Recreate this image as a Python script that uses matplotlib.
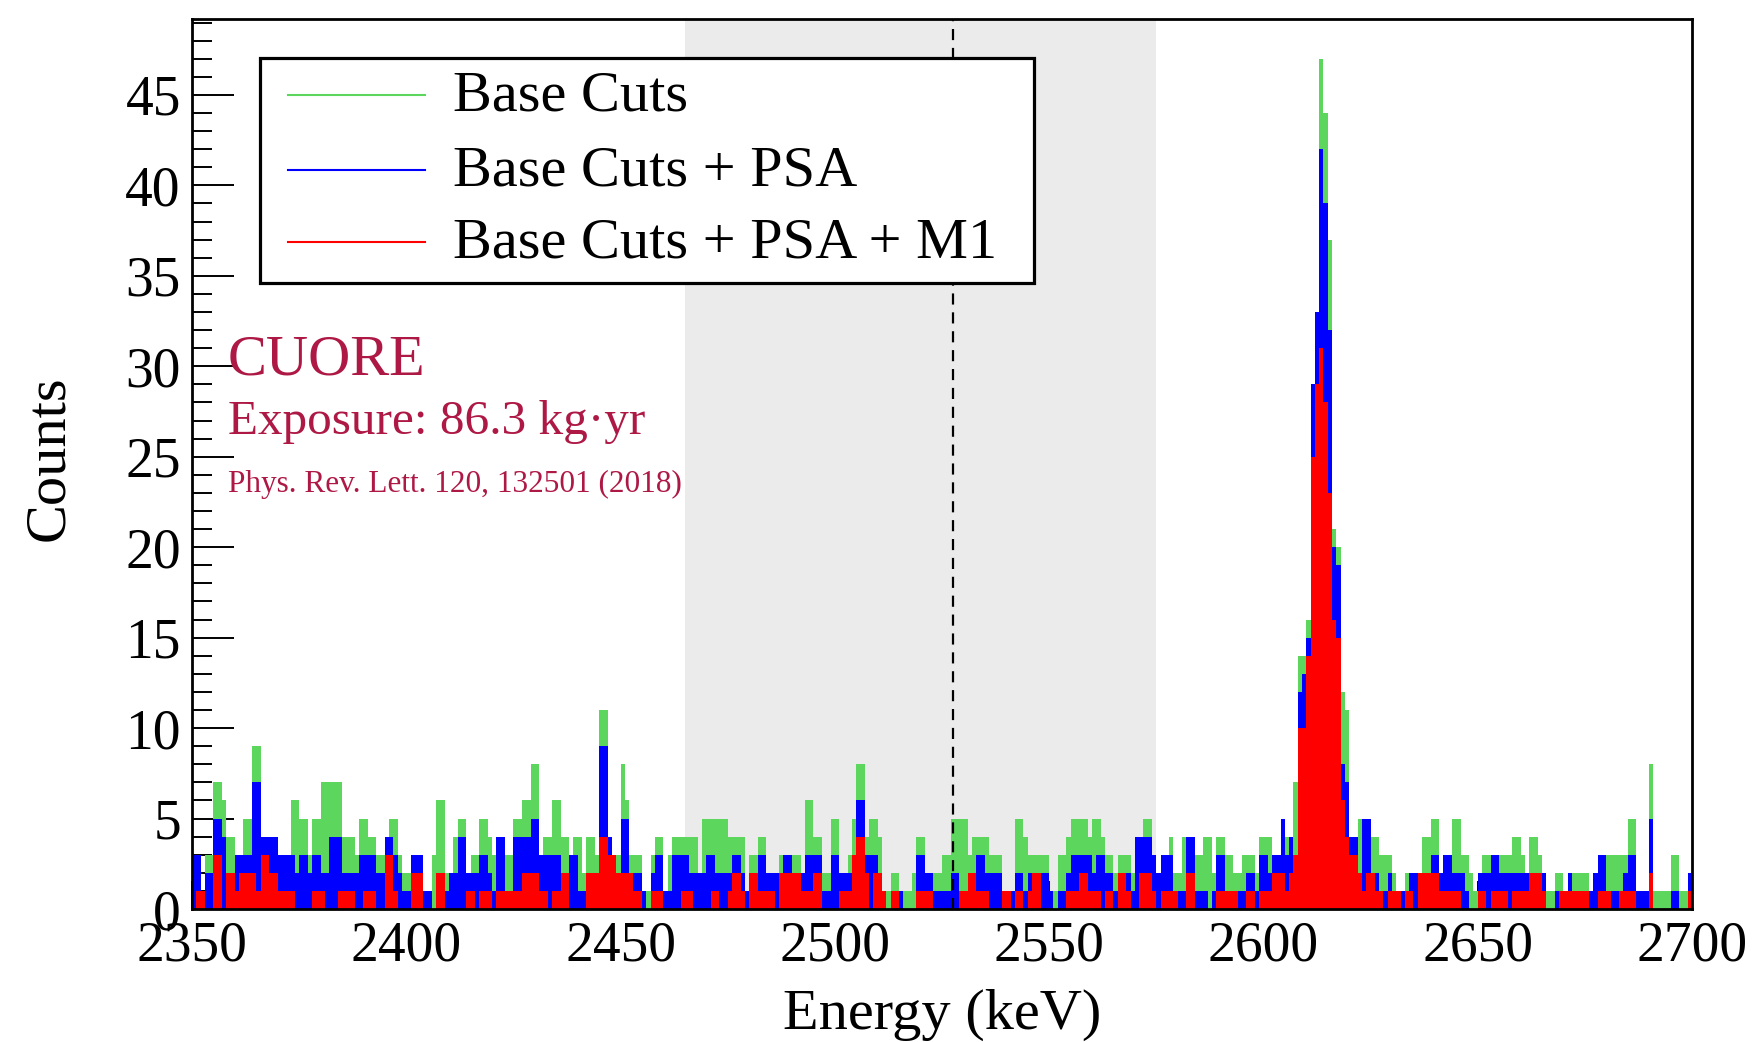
import numpy as np
import matplotlib.pyplot as plt
from matplotlib.ticker import MultipleLocator
from matplotlib.patches import Rectangle

plt.rcParams['font.family'] = ['Liberation Serif', 'DejaVu Serif']

e_lo, e_hi = 2350, 2700
roi = (2465, 2575)
q_bb = 2527.5

# counts per 1 keV bin, 2350-2700 keV
base_cuts = [
    3, 3, 1, 3, 3, 7, 7, 6, 4, 4, 3, 3, 5, 5, 9, 9, 4, 4, 4, 4, 3, 3, 3, 6, 6, 5, 5, 3, 5, 5, 7, 7, 7, 7, 7,
    4, 4, 4, 3, 5, 5, 4, 4, 3, 3, 4, 5, 5, 3, 2, 2, 3, 3, 3, 1, 1, 3, 6, 6, 2, 2, 4, 5, 5, 2, 3, 3, 5, 5,
    4, 3, 4, 4, 3, 3, 5, 5, 6, 6, 8, 8, 3, 4, 4, 6, 6, 4, 4, 3, 4, 4, 2, 4, 4, 3, 11, 11, 4, 3, 3, 8, 6, 3, 3,
    3, 1, 1, 3, 4, 4, 1, 3, 4, 4, 4, 4, 4, 4, 2, 5, 5, 5, 5, 5, 5, 4, 4, 4, 4, 1, 3, 3, 4, 4, 2, 2, 2, 3, 3,
    3, 3, 3, 2, 6, 6, 4, 4, 2, 2, 5, 5, 2, 2, 3, 5, 8, 8, 4, 5, 5, 4, 1, 1, 2, 2, 1, 1, 1, 2, 4, 4, 2, 2, 2,
    2, 3, 3, 5, 5, 5, 5, 3, 4, 4, 4, 4, 3, 3, 3, 1, 1, 1, 5, 5, 4, 3, 3, 3, 3, 3, 1, 1, 3, 3, 4, 5, 5, 5, 5,
    4, 5, 5, 4, 3, 3, 2, 3, 3, 3, 2, 4, 4, 5, 5, 3, 2, 3, 3, 4, 2, 2, 4, 4, 4, 3, 3, 4, 4, 2, 4, 4, 3, 3, 2,
    2, 3, 3, 3, 2, 4, 4, 4, 3, 3, 5, 4,
    4, 7, 14, 14, 16, 29, 33, 47, 44, 37, 21, 20, 12, 11,
    4, 4, 5, 5, 5, 4, 4, 3, 3,
    3, 2, 1, 1, 2, 2, 2, 2, 4, 4, 5, 5, 2, 3, 3, 5, 5, 3, 3, 2, 1, 2, 3, 3, 3, 3, 3, 3, 3, 4, 4, 3, 2, 4, 4,
    3, 2, 1, 1, 2, 2, 1, 2, 2, 2, 2, 2, 1, 2, 3, 3, 3, 3, 3, 3, 3, 5, 5, 1, 1, 1, 8, 1, 1, 1, 1, 3, 3, 1, 1, 2,
]
base_psa = [
    3, 3, 1, 2, 2, 5, 5, 4, 2, 2, 3, 3, 3, 3, 7, 7, 4, 4, 4, 4, 3, 3, 3, 3, 2, 3, 3, 2, 3, 3, 2, 2, 4, 4, 4,
    2, 2, 2, 2, 3, 3, 3, 3, 2, 2, 4, 4, 3, 2, 1, 1, 3, 3, 3, 1, 1, 0, 2, 2, 1, 2, 2, 4, 4, 2, 2, 2, 3, 3,
    2, 1, 4, 4, 1, 1, 4, 4, 4, 4, 5, 5, 3, 3, 3, 3, 3, 2, 2, 3, 3, 1, 1, 2, 2, 2, 9, 9, 4, 3, 2, 5, 5, 2, 2,
    2, 1, 0, 2, 3, 3, 1, 1, 3, 3, 3, 3, 2, 2, 2, 2, 3, 3, 2, 2, 2, 2, 3, 3, 2, 1, 2, 2, 3, 3, 2, 2, 2, 2, 3,
    3, 2, 2, 2, 3, 3, 3, 3, 1, 1, 3, 3, 2, 2, 2, 3, 6, 6, 3, 3, 3, 2, 1, 0, 1, 1, 1, 0, 0, 0, 3, 3, 2, 2, 1,
    1, 1, 1, 2, 2, 1, 1, 2, 2, 3, 3, 2, 2, 2, 2, 1, 1, 1, 2, 2, 1, 2, 2, 2, 2, 2, 1, 0, 1, 1, 2, 3, 3, 3, 3,
    3, 2, 3, 3, 2, 2, 1, 2, 2, 2, 1, 4, 4, 4, 4, 3, 2, 3, 3, 3, 1, 1, 1, 4, 4, 1, 1, 1, 0, 1, 3, 3, 1, 1, 1,
    1, 1, 2, 2, 1, 3, 3, 2, 3, 3, 5, 3,
    4, 3, 12, 13, 15, 29, 33, 42, 39, 32, 20, 19, 8, 7,
    4, 4, 2, 5, 5, 2, 2, 1, 1,
    2, 1, 1, 1, 1, 2, 2, 2, 2, 2, 3, 3, 2, 3, 3, 2, 2, 2, 1, 0, 0, 2, 2, 2, 3, 3, 2, 2, 2, 2, 2, 2, 2, 2, 2,
    2, 2, 0, 0, 1, 1, 1, 2, 1, 1, 1, 1, 1, 2, 3, 3, 1, 1, 1, 1, 2, 3, 3, 1, 1, 1, 5, 0, 0, 0, 0, 1, 1, 0, 0, 2,
]
base_psa_m1 = [
    0, 1, 1, 0, 0, 3, 3, 0, 2, 2, 1, 2, 2, 2, 2, 1, 3, 3, 2, 2, 1, 1, 1, 1, 0, 0, 0, 0, 1, 1, 1, 0, 0, 0, 1,
    1, 1, 1, 0, 0, 1, 1, 1, 0, 0, 3, 3, 1, 0, 0, 0, 2, 2, 2, 0, 0, 0, 2, 2, 0, 0, 0, 0, 0, 1, 1, 0, 1, 1,
    1, 0, 1, 1, 1, 1, 1, 1, 2, 2, 2, 2, 1, 1, 0, 1, 1, 2, 2, 0, 0, 0, 0, 2, 2, 2, 4, 4, 3, 3, 2, 2, 2, 2, 1,
    1, 0, 0, 1, 1, 1, 0, 0, 0, 0, 1, 1, 1, 0, 0, 0, 0, 1, 1, 0, 0, 1, 2, 2, 1, 0, 2, 2, 1, 1, 1, 1, 0, 2, 2,
    2, 2, 2, 1, 1, 1, 2, 2, 0, 0, 0, 0, 1, 1, 1, 3, 4, 4, 2, 0, 2, 2, 1, 0, 1, 1, 0, 0, 0, 0, 1, 1, 1, 1, 0,
    0, 0, 0, 0, 0, 1, 1, 2, 2, 1, 1, 1, 0, 0, 0, 1, 1, 0, 1, 1, 0, 1, 2, 2, 0, 0, 0, 0, 0, 0, 1, 1, 1, 2, 2,
    1, 1, 1, 0, 1, 1, 0, 2, 2, 1, 0, 0, 2, 2, 2, 1, 0, 1, 1, 1, 1, 0, 0, 2, 2, 0, 0, 0, 0, 0, 1, 1, 1, 1, 1,
    0, 0, 1, 1, 0, 1, 1, 1, 2, 2, 2, 1,
    2, 3, 10, 10, 14, 25, 29, 31, 28, 23, 16, 15, 6, 4,
    3, 3, 2, 1, 2, 2, 1, 1, 0,
    1, 1, 1, 0, 1, 1, 0, 2, 2, 2, 2, 2, 1, 1, 1, 1, 1, 0, 0, 0, 0, 1, 1, 0, 1, 1, 1, 1, 0, 1, 1, 1, 1, 2, 2,
    2, 1, 0, 0, 0, 1, 1, 1, 1, 1, 1, 1, 0, 0, 1, 1, 1, 0, 0, 1, 1, 1, 1, 0, 0, 0, 2, 0, 0, 0, 0, 0, 0, 0, 0, 1,
]

labels = ['Base Cuts', 'Base Cuts + PSA', 'Base Cuts + PSA + M1']
colors = ['#5cd65c', '#0000ff', '#ff0000']
edges = np.arange(e_lo, e_hi + 1, 1.0)

fig = plt.figure(figsize=(17.53, 10.42), dpi=100)
ax = fig.add_axes([0.1095, 0.1276, 0.8557, 0.8542])

ax.axvspan(roi[0], roi[1], color='#ebebeb', lw=0, zorder=0)
for vals, c in zip([base_cuts, base_psa, base_psa_m1], colors):
    ax.stairs(vals, edges, fill=True, color=c, lw=0, zorder=2)
ax.axvline(q_bb, color='black', ls=(0, (5, 3.5)), lw=1.6, zorder=4)

ax.set_xlim(e_lo, e_hi)
ax.set_ylim(0, 49.2)
ax.xaxis.set_major_locator(MultipleLocator(50))
ax.xaxis.set_minor_locator(MultipleLocator(10))
ax.yaxis.set_major_locator(MultipleLocator(5))
ax.yaxis.set_minor_locator(MultipleLocator(1))
ax.tick_params(axis='both', which='both', direction='in', top=False, right=False,
               labelsize=40, width=1.4, pad=8)
ax.tick_params(axis='y', which='major', length=30)
ax.tick_params(axis='y', which='minor', length=14.5)
ax.tick_params(axis='x', which='major', length=20)
ax.tick_params(axis='x', which='minor', length=9.5)
for s in ax.spines.values():
    s.set_linewidth(2)
    s.set_zorder(5)

ax.set_xlabel('Energy (keV)', fontsize=42)
ax.set_ylabel('Counts', fontsize=42)
ax.xaxis.set_label_coords(0.5, -0.09)
ax.yaxis.set_label_coords(-0.078, 0.507)

# legend box drawn like the ROOT one
ax.add_patch(Rectangle((0.0453, 0.7034), 0.516, 0.2528, transform=ax.transAxes,
                       facecolor='white', edgecolor='black', lw=2.3, zorder=6))
row_y = [0.9146, 0.8305, 0.7499]
for lab, c, y in zip(labels, colors, row_y):
    ax.plot([0.064, 0.1553], [y, y], color=c, lw=1.5, transform=ax.transAxes, zorder=7)
    ax.text(0.174, y - 0.018, lab, fontsize=42, va='baseline', ha='left',
            transform=ax.transAxes, zorder=7)

txt_c = '#ae1845'
ax.text(0.024, 0.6003, 'CUORE', color=txt_c, fontsize=42, va='baseline', transform=ax.transAxes)
ax.text(0.024, 0.5337, 'Exposure: 86.3 kg\u00b7yr', color=txt_c, fontsize=35.5,
        va='baseline', transform=ax.transAxes)
ax.text(0.024, 0.4685, 'Phys. Rev. Lett. 120, 132501 (2018)', color=txt_c, fontsize=22.5,
        va='baseline', transform=ax.transAxes)

fig.savefig('out.png', dpi=100)
